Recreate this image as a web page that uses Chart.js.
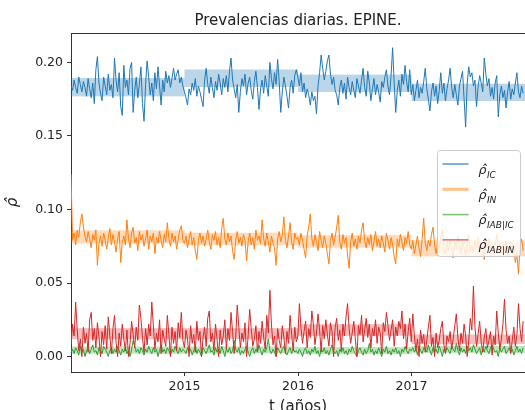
<!DOCTYPE html>
<html>
<head>
<meta charset="utf-8">
<script src="https://cdn.jsdelivr.net/npm/chart.js@4.4.0/dist/chart.umd.min.js"></script>
<style>
  html, body { margin: 0; padding: 0; background: #fff; overflow: hidden; }
  #wrap { width: 525px; height: 410px; overflow: hidden; }
</style>
</head>
<body>
<div id="wrap"><canvas id="chart" width="530" height="410"></canvas></div>
<script>
// daily prevalences sampled every 5 days from 1 Jan 2014, values in per mille
const startYear = 2014
const stepDays = 5
const years = [2014, 2015, 2016, 2017]
const xTicks = [2015, 2016, 2017]
const yTicks = [0, 0.05, 0.10, 0.15, 0.20]
const chartTitle = "Prevalencias diarias. EPINE."

const icPerMil = [
  184,181,188,183,179,190,185,180,187,183,177,189,182,176,186,172,195,204,186,179,174,190,184,178,192,181,185,176,203,188,180,193,170,164,198,183,188,178,196,200,166,181,190,176,185,197,172,160,185,201,190,178,186,174,193,182,197,184,171,188,180,194,186,191,183,189,196,188,192,195,186,190,184,
  180,176,171,182,178,186,181,189,177,184,180,175,170,188,196,185,179,190,183,176,187,181,192,186,178,189,183,191,180,194,203,188,182,176,185,166,180,189,184,192,178,186,190,181,175,187,194,183,168,182,188,179,191,184,177,200,189,182,193,185,202,187,166,180,190,184,177,169,183,188,179,191,195,
  190,184,193,180,186,176,182,178,171,180,174,177,165,184,193,205,196,188,194,201,205,192,185,190,181,178,171,183,188,179,186,175,190,183,178,187,181,176,189,184,179,188,196,183,177,194,186,174,182,189,178,185,180,173,187,183,190,195,184,178,191,210,186,166,181,188,177,192,185,198,187,180,195,
  178,185,174,181,188,176,183,179,187,196,182,175,167,180,186,177,184,172,181,193,179,186,174,182,188,196,183,176,185,178,171,184,189,194,175,156,186,197,190,193,184,188,170,183,191,186,180,203,192,184,189,177,183,175,186,191,163,178,184,176,181,169,180,187,175,182,178,186,193,180,176,184,179
]
const inPerMil = [
  124,79,84,76,86,81,91,97,88,82,78,85,80,74,83,79,86,62,77,82,75,84,79,73,81,87,76,83,78,71,80,85,64,78,82,76,93,80,74,84,88,77,81,72,85,79,83,75,80,86,73,82,78,84,70,81,77,85,79,74,83,78,91,80,75,84,78,82,73,80,86,89,79,
  77,82,74,80,85,76,81,72,66,79,84,77,82,75,80,86,78,73,83,79,85,76,81,74,87,94,80,76,84,78,82,72,66,79,85,77,81,75,83,79,65,78,84,76,81,73,86,79,82,77,93,80,75,84,78,71,82,77,74,62,80,85,78,83,95,79,74,82,91,78,73,84,80,
  81,76,84,79,73,67,82,88,97,80,75,83,78,72,85,79,74,82,77,70,63,79,84,76,81,88,96,78,73,83,77,81,69,60,78,84,75,80,73,82,77,86,91,79,74,81,76,83,72,78,85,75,80,74,82,77,71,84,79,73,81,76,68,63,80,75,83,78,72,81,77,85,76,
  73,79,70,76,82,74,68,80,94,77,72,79,75,83,88,76,70,78,73,81,86,75,69,77,72,80,74,67,78,73,82,76,70,79,74,68,77,83,72,76,70,79,74,81,71,77,73,66,78,74,80,72,76,69,75,83,73,78,70,76,72,79,68,74,71,77,73,64,70,56,75,80,72
]
const abIcPerMil = [
  3,5,2,6,4,1,7,3,5,0,4,6,2,5,8,3,4,1,6,4,2,7,5,3,0,4,6,2,5,3,7,4,1,5,3,6,2,4,0,5,11,7,3,5,2,6,4,1,5,3,7,4,2,6,3,5,0,4,8,3,5,2,6,4,1,5,3,7,4,2,6,3,5,
  4,2,6,3,5,1,4,7,2,5,3,0,6,4,2,5,8,3,4,1,6,3,5,2,7,4,0,5,3,6,2,4,11,5,3,6,1,4,2,5,7,3,0,4,6,2,5,3,8,4,1,5,3,6,12,4,2,5,3,0,6,4,2,5,7,3,1,4,6,2,5,3,4,
  2,5,3,0,4,6,2,4,1,5,3,7,2,4,0,5,3,6,2,4,1,5,8,3,2,4,0,5,3,6,2,4,1,5,3,7,4,2,0,4,6,3,1,5,2,4,9,3,5,1,4,2,6,3,0,5,3,7,2,4,1,5,3,6,2,4,0,5,3,7,4,2,5,
  4,6,3,5,1,7,4,2,6,5,3,8,4,1,6,3,5,2,7,4,0,5,3,6,4,2,7,5,3,9,4,1,6,3,5,2,7,4,6,3,8,5,2,4,6,1,5,3,7,4,2,6,8,5,3,4,0,6,3,5,7,2,4,6,3,5,1,4,7,3,5,2,6
]
const abInPerMil = [
  8,22,14,37,18,4,12,0,20,9,16,3,25,30,11,19,6,23,13,0,17,8,21,5,27,14,2,19,28,10,0,16,7,22,12,4,18,0,9,24,15,6,20,11,35,26,13,3,19,8,22,14,37,21,5,16,10,25,2,18,12,7,28,15,0,20,9,17,4,23,13,30,11,
  6,18,12,0,21,9,15,3,24,11,17,0,13,20,7,26,31,10,16,4,22,12,0,18,8,14,25,5,19,11,30,17,2,13,35,20,6,16,10,23,0,14,32,19,7,12,21,3,17,9,24,13,5,28,16,45,22,8,14,0,19,11,6,21,13,2,17,9,28,15,4,20,10,
  14,36,20,9,17,24,6,19,13,31,22,8,16,29,18,3,21,12,25,15,7,23,17,0,20,26,11,18,4,22,14,27,36,19,9,16,24,12,0,21,15,28,10,18,26,13,22,6,19,14,25,9,20,16,2,23,17,30,21,11,18,25,7,20,14,24,19,31,12,22,5,17,26,
  10,29,14,4,12,0,18,9,15,3,11,20,28,7,13,0,16,6,11,19,24,8,2,14,10,17,5,12,21,29,13,4,16,9,22,14,0,11,26,18,48,20,7,15,24,10,3,13,19,6,11,17,1,14,8,31,16,5,12,22,39,18,9,14,2,11,20,7,15,36,19,10,24
]

// yearly bands (low / high) for each series
const icBandLo = [0.1769, 0.1833, 0.1799, 0.1737]
const icBandHi = [0.1894, 0.1952, 0.1917, 0.1855]
const inBandLo = [0.0769, 0.0756, 0.0740, 0.0681]
const inBandHi = [0.0858, 0.0842, 0.0826, 0.0790]
const abIcBandLo = [0.0020, 0.0022, 0.0018, 0.0026]
const abIcBandHi = [0.0068, 0.0068, 0.0064, 0.0072]
const abInBandLo = [0.0118, 0.0118, 0.0141, 0.0084]
const abInBandHi = [0.0193, 0.0193, 0.0220, 0.0150]

const textColor = "#222"
const axisColor = "#333"
const family = "DejaVu Sans"

function toPoints(perMil) {
  return perMil.map((v, i) => ({ x: startYear + i * stepDays / 365.25, y: v / 1000 }))
}

const bands = [
  { lo: icBandLo, hi: icBandHi, color: "rgba(31,119,180,0.3)" },
  { lo: inBandLo, hi: inBandHi, color: "rgba(255,127,14,0.28)" },
  { lo: abIcBandLo, hi: abIcBandHi, color: "rgba(44,160,44,0.3)" },
  { lo: abInBandLo, hi: abInBandHi, color: "rgba(214,39,40,0.3)" }
]

const bandsPlugin = {
  id: "bands",
  beforeDatasetsDraw(chart) {
    const { ctx, chartArea, scales: { x, y } } = chart
    ctx.save()
    ctx.beginPath()
    ctx.rect(chartArea.left, chartArea.top, chartArea.width, chartArea.height)
    ctx.clip()
    bands.forEach(b => {
      ctx.fillStyle = b.color
      years.forEach((yr, i) => {
        const x0 = x.getPixelForValue(yr)
        const x1 = x.getPixelForValue(yr + 1)
        const yTop = y.getPixelForValue(b.hi[i])
        const yBot = y.getPixelForValue(b.lo[i])
        ctx.fillRect(x0, yTop, x1 - x0, yBot - yTop)
      })
    })
    ctx.restore()
  }
}

// top/right spines and the title centred over the axes, like matplotlib
const frame = {
  id: "frame",
  afterDatasetsDraw(chart) {
    const { ctx, chartArea } = chart
    ctx.save()
    ctx.strokeStyle = axisColor
    ctx.lineWidth = 1
    ctx.beginPath()
    ctx.moveTo(chartArea.left, chartArea.top + 0.5)
    ctx.lineTo(chartArea.right, chartArea.top + 0.5)
    ctx.moveTo(chartArea.right + 0.5, chartArea.top)
    ctx.lineTo(chartArea.right + 0.5, chartArea.bottom)
    ctx.stroke()
    ctx.fillStyle = textColor
    ctx.font = `15px '${family}'`
    ctx.textAlign = "center"
    ctx.textBaseline = "middle"
    ctx.fillText(chartTitle, (chartArea.left + chartArea.right) / 2, chartArea.top - 12)
    ctx.restore()
  }
}

const legendEntries = [
  { sub: "IC", color: "rgba(31,119,180,0.75)", width: 1.5 },
  { sub: "IN", color: "rgba(255,127,14,0.5)", width: 3 },
  { sub: "IAB|IC", color: "rgba(44,160,44,0.65)", width: 1.5 },
  { sub: "IAB|IN", color: "#d62728", width: 1 }
]

const texLegend = {
  id: "texLegend",
  afterDraw(chart) {
    const { ctx, chartArea } = chart
    const w = 83, h = 106
    const x0 = Math.round(chartArea.right - 5 - w) + 0.5
    const y0 = Math.round((chartArea.top + chartArea.bottom) / 2 - h / 2) + 0.5
    ctx.save()
    ctx.beginPath()
    ctx.roundRect(x0, y0, w, h, 3)
    ctx.fillStyle = "rgba(255,255,255,0.8)"
    ctx.fill()
    ctx.strokeStyle = "#cccccc"
    ctx.lineWidth = 1
    ctx.stroke()
    legendEntries.forEach((e, k) => {
      const yy = y0 + 13.5 + k * 25.3
      ctx.beginPath()
      ctx.moveTo(x0 + 5, yy)
      ctx.lineTo(x0 + 31, yy)
      ctx.strokeStyle = e.color
      ctx.lineWidth = e.width
      ctx.stroke()
      const tx = x0 + 41
      ctx.fillStyle = textColor
      ctx.textAlign = "left"
      ctx.textBaseline = "alphabetic"
      ctx.font = `italic 12.5px '${family}'`
      ctx.fillText("\u03c1\u0302", tx, yy + 9.5)
      const rw = ctx.measureText("\u03c1").width
      ctx.font = `italic 9px '${family}'`
      ctx.fillText(e.sub, tx + rw + 0.5, yy + 13.5)
    })
    ctx.restore()
  }
}

const tickFont = { family, size: 12.5 }

new Chart(document.getElementById("chart"), {
  type: "line",
  data: {
    datasets: [
      { label: "IAB|IN", data: toPoints(abInPerMil), borderColor: "#d62728", order: 1 },
      { label: "IAB|IC", data: toPoints(abIcPerMil), borderColor: "#2ca02c", order: 2 },
      { label: "IN", data: toPoints(inPerMil), borderColor: "#ff7f0e", order: 3 },
      { label: "IC", data: toPoints(icPerMil), borderColor: "#1f77b4", order: 4 }
    ]
  },
  options: {
    responsive: false,
    animation: false,
    layout: { padding: { left: 0, right: 5, top: 33, bottom: 0 } },
    elements: {
      point: { radius: 0 },
      line: { borderWidth: 1, tension: 0, fill: false }
    },
    plugins: {
      legend: { display: false },
      tooltip: { enabled: false },
      title: { display: false }
    },
    scales: {
      x: {
        type: "linear",
        min: 2014,
        max: 2018,
        afterFit: s => { s.height = 38 },
        afterBuildTicks: s => { s.ticks = xTicks.map(v => ({ value: v })) },
        ticks: { callback: v => String(v), font: tickFont, color: textColor, padding: 3, maxRotation: 0, autoSkip: false },
        grid: { drawOnChartArea: false, drawTicks: true, tickLength: 4, tickColor: axisColor },
        border: { display: true, color: axisColor, width: 1 },
        title: { display: true, text: "t (años)", color: textColor, font: { family, size: 15, lineHeight: 0.8 }, padding: { top: 0, bottom: -3 } }
      },
      y: {
        type: "linear",
        min: -0.0105,
        max: 0.2200,
        afterFit: s => { s.width = 71 },
        afterBuildTicks: s => { s.ticks = yTicks.map(v => ({ value: v })) },
        ticks: { callback: v => v.toFixed(2), font: tickFont, color: textColor, padding: 4, autoSkip: false },
        grid: { drawOnChartArea: false, drawTicks: true, tickLength: 4, tickColor: axisColor },
        border: { display: true, color: axisColor, width: 1 },
        title: { display: true, text: "\u03c1\u0302", color: textColor, font: { family, size: 15, style: "italic", lineHeight: 1 }, padding: { top: 6, bottom: 0 } }
      }
    }
  },
  plugins: [bandsPlugin, frame, texLegend]
})
</script>
</body>
</html>
